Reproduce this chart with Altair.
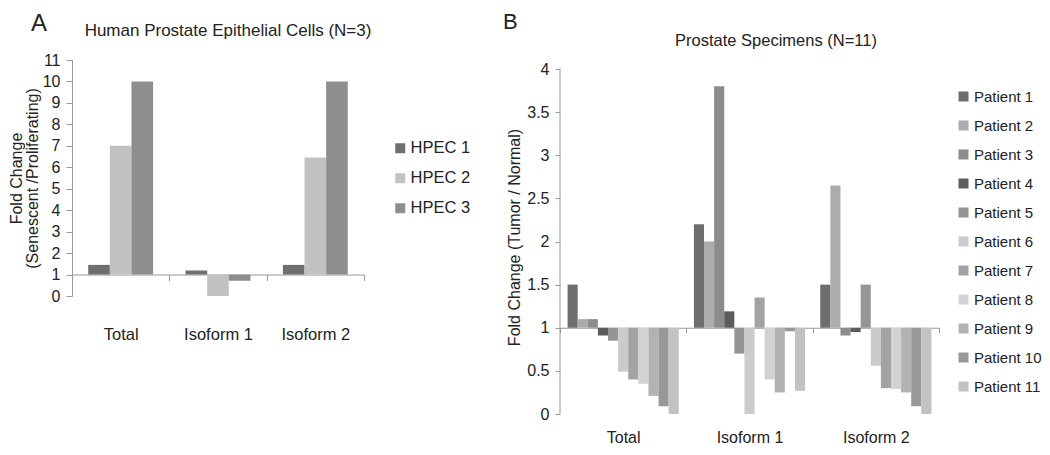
import altair as alt
import pandas as pd

FONT = "Liberation Sans"
TEXT = "#222222"
LINE = "#9a9a9a"

# ---------------- data ----------------
groups = ["Total", "Isoform 1", "Isoform 2"]

hpec_names = ["HPEC 1", "HPEC 2", "HPEC 3"]
hpec_colors = ["#6f6f6f", "#c2c2c2", "#8e8e8e"]
hpec_total = [1.45, 7.0, 10.0]
hpec_iso1 = [1.19, 0.0, 0.71]
hpec_iso2 = [1.45, 6.45, 10.0]

patient_names = [f"Patient {i}" for i in range(1, 12)]
patient_colors = ["#6e6e6e", "#acacac", "#8c8c8c", "#5c5c5c", "#959595",
                  "#cbcbcb", "#a3a3a3", "#d2d2d2", "#b2b2b2", "#989898", "#c2c2c2"]
patient_total = [1.5, 1.1, 1.1, 0.91, 0.85, 0.49, 0.40, 0.35, 0.21, 0.09, 0.0]
patient_iso1 = [2.2, 2.0, 3.8, 1.19, 0.70, 0.0, 1.35, 0.40, 0.25, 0.96, 0.27]
patient_iso2 = [1.5, 2.65, 0.91, 0.95, 1.5, 0.56, 0.30, 0.29, 0.25, 0.09, 0.0]

a_ticks = list(range(0, 12))
b_ticks = [0, 0.5, 1, 1.5, 2, 2.5, 3, 3.5, 4]

title_a = "Human Prostate Epithelial Cells (N=3)"
title_b = "Prostate Specimens (N=11)"

# ---------------- tables ----------------
def table(names, *cols):
    rows = []
    for g, vals in zip(groups, cols):
        for n, v in zip(names, vals):
            rows.append({"group": g, "series": n, "value": v})
    return pd.DataFrame(rows)

df_a = table(hpec_names, hpec_total, hpec_iso1, hpec_iso2)
df_b = table(patient_names, patient_total, patient_iso1, patient_iso2)


def label(text, size, x, y, align="left", baseline="alphabetic"):
    return alt.Chart(pd.DataFrame({"t": [text]})).mark_text(
        font=FONT, fontSize=size, color=TEXT, align=align, baseline=baseline
    ).encode(text="t:N", x=alt.value(x), y=alt.value(y))


# ---------------- panel A ----------------
A_W, A_H = 292, 236
A_MAX = 11
a_unit = A_H / A_MAX

bars_a = alt.Chart(df_a).mark_bar().encode(
    x=alt.X("group:N", sort=groups, title=None,
            scale=alt.Scale(paddingInner=0, paddingOuter=0),
            axis=alt.Axis(offset=-a_unit * 1, tickBand="extent", tickSize=6,
                          labelPadding=46, labelFontSize=16.5, labelAngle=0,
                          domainColor=LINE, tickColor=LINE)),
    xOffset=alt.XOffset("series:N", sort=hpec_names,
                        scale=alt.Scale(paddingOuter=0.75, paddingInner=0)),
    y=alt.Y("value:Q", scale=alt.Scale(domain=[0, A_MAX], nice=False),
            axis=alt.Axis(values=a_ticks, grid=False, tickSize=6, labelPadding=6,
                          labelFontSize=16, titleFontSize=16, titleLineHeight=16,
                          titlePadding=2, domainColor=LINE, tickColor=LINE),
            title=["Fold Change", "(Senescent /Proliferating)"]),
    y2=alt.datum(1),
    color=alt.Color("series:N", sort=hpec_names,
                    scale=alt.Scale(domain=hpec_names, range=hpec_colors),
                    legend=alt.Legend(title=None, orient="none", legendX=320, legendY=80,
                                      symbolType="square", symbolSize=100,
                                      symbolStrokeWidth=0, labelFontSize=16.5,
                                      labelOffset=2, rowPadding=13, padding=0)),
)

panel_a = alt.layer(
    bars_a,
    label("A", 24, -41, -48, baseline="top"),
    label(title_a, 17, 156, -24, align="center"),
).properties(width=A_W, height=A_H)

# ---------------- panel B ----------------
B_W, B_H = 379, 354
B_UNIT = 345 / 4
B_MAX = B_H / B_UNIT

bars_b = alt.Chart(df_b).mark_bar().encode(
    x=alt.X("group:N", sort=groups, title=None,
            scale=alt.Scale(paddingInner=0, paddingOuter=0),
            axis=alt.Axis(offset=-B_UNIT * 1, tickBand="extent", tickSize=5,
                          labelPadding=97, labelFontSize=16, labelAngle=0,
                          domainColor=LINE, tickColor=LINE)),
    xOffset=alt.XOffset("series:N", sort=patient_names,
                        scale=alt.Scale(paddingOuter=0.75, paddingInner=0)),
    y=alt.Y("value:Q", scale=alt.Scale(domain=[0, B_MAX], nice=False),
            axis=alt.Axis(values=b_ticks, format="~g", grid=False, domain=False,
                          tickSize=5, labelPadding=6, labelFontSize=16,
                          titleFontSize=16, titlePadding=4, tickColor=LINE),
            title="Fold Change (Tumor / Normal)"),
    y2=alt.datum(1),
    color=alt.Color("series:N", sort=patient_names,
                    scale=alt.Scale(domain=patient_names, range=patient_colors),
                    legend=alt.Legend(title=None, orient="none", legendX=396, legendY=29,
                                      symbolType="square", symbolSize=100,
                                      symbolStrokeWidth=0, labelFontSize=15,
                                      labelOffset=3, rowPadding=13.0, padding=0)),
)

yline_b = alt.Chart(pd.DataFrame({"v": [0]})).mark_rule(color=LINE, strokeWidth=1).encode(
    x=alt.value(0), y=alt.datum(0), y2=alt.datum(4)
)

panel_b = alt.layer(
    bars_b,
    yline_b,
    label("B", 22, -57, -48, baseline="top"),
    label(title_b, 16.5, 216, -14, align="center"),
).properties(width=B_W, height=B_H)

chart = alt.hconcat(panel_a, panel_b, spacing=32).resolve_scale(
    color="independent", x="independent", y="independent", xOffset="independent"
).configure(
    font=FONT, padding={"top": 3, "left": 0, "right": 0, "bottom": 0}
).configure_view(stroke=None).configure_axis(
    labelFont=FONT, titleFont=FONT, labelColor=TEXT, titleColor=TEXT,
    titleFontWeight="normal"
).configure_legend(labelFont=FONT, labelColor=TEXT)

chart.save("out.html", embed_options={"renderer": "svg", "actions": False})
